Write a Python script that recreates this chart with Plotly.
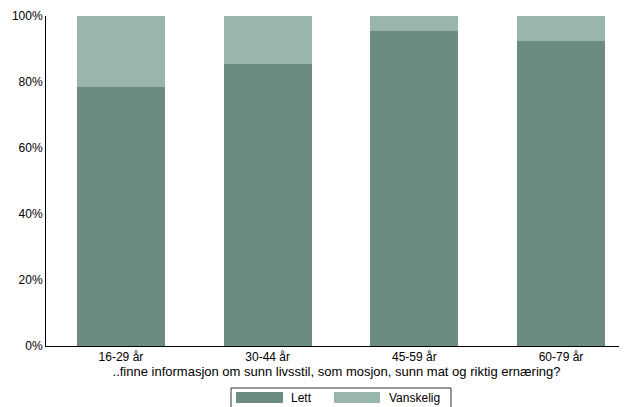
import plotly.graph_objects as go

categories = ["16-29 år", "30-44 år", "45-59 år", "60-79 år"]
lett = [78.5, 85.5, 95.5, 92.4]
vanskelig = [21.5, 14.5, 4.5, 7.6]
y_ticks = [0, 20, 40, 60, 80, 100]
y_tick_labels = ["0%", "20%", "40%", "60%", "80%", "100%"]
x_title = "..finne informasjon om sunn livsstil, som mosjon, sunn mat og riktig ernæring?"
series_names = ["Lett", "Vanskelig"]
series_colors = ["#6d8c80", "#98b6ae"]

W, H = 627, 407
OFF = 8  # page body margin
PL, PR, PT, PB = 46, 627, 16, 346  # plot area in page pixels

fig = go.Figure()
fig.add_trace(go.Bar(x=categories, y=lett, name=series_names[0],
                     marker=dict(color=series_colors[0], line=dict(width=0)), width=0.6))
fig.add_trace(go.Bar(x=categories, y=vanskelig, name=series_names[1],
                     marker=dict(color=series_colors[1], line=dict(width=0)), width=0.6))

font_fam = "Liberation Sans, Arial, sans-serif"

def px(x):
    return (x - PL) / (PR - PL)

def py(y):
    return (PB - y) / (PB - PT)

# custom legend (paper coordinates)
shapes = [
    dict(type="rect", xref="paper", yref="paper", x0=px(231), x1=px(451), y0=py(412), y1=py(388),
         line=dict(color="#333", width=1), fillcolor="white"),
    dict(type="rect", xref="paper", yref="paper", x0=px(236), x1=px(283), y0=py(403), y1=py(392),
         line=dict(width=0), fillcolor=series_colors[0]),
    dict(type="rect", xref="paper", yref="paper", x0=px(334), x1=px(380), y0=py(403), y1=py(392),
         line=dict(width=0), fillcolor=series_colors[1]),
]
annotations = [
    dict(text=series_names[0], xref="paper", yref="paper", x=px(289), y=py(397.5), xanchor="left",
         yanchor="middle", showarrow=False, font=dict(size=12, color="black")),
    dict(text=series_names[1], xref="paper", yref="paper", x=px(387), y=py(397.5), xanchor="left",
         yanchor="middle", showarrow=False, font=dict(size=12, color="black")),
]

fig.update_layout(
    barmode="stack",
    width=W, height=H,
    margin=dict(l=PL - OFF, r=W - (PR - OFF), t=PT - OFF, b=H - (PB - OFF), autoexpand=False),
    plot_bgcolor="white", paper_bgcolor="white",
    font=dict(family=font_fam, size=12, color="black"),
    showlegend=False,
    shapes=shapes,
    annotations=annotations,
    xaxis=dict(range=[-0.511, 3.45], showline=True, linecolor="black", linewidth=1,
               ticks="", showgrid=False, tickfont=dict(size=12),
               title=dict(text=x_title, font=dict(size=13), standoff=2)),
    yaxis=dict(range=[0, 100], tickvals=y_ticks, ticktext=y_tick_labels, showline=True,
               linecolor="black", linewidth=1, ticks="", showgrid=False, zeroline=False,
               tickfont=dict(size=12)),
)
fig.write_html("out.html")
